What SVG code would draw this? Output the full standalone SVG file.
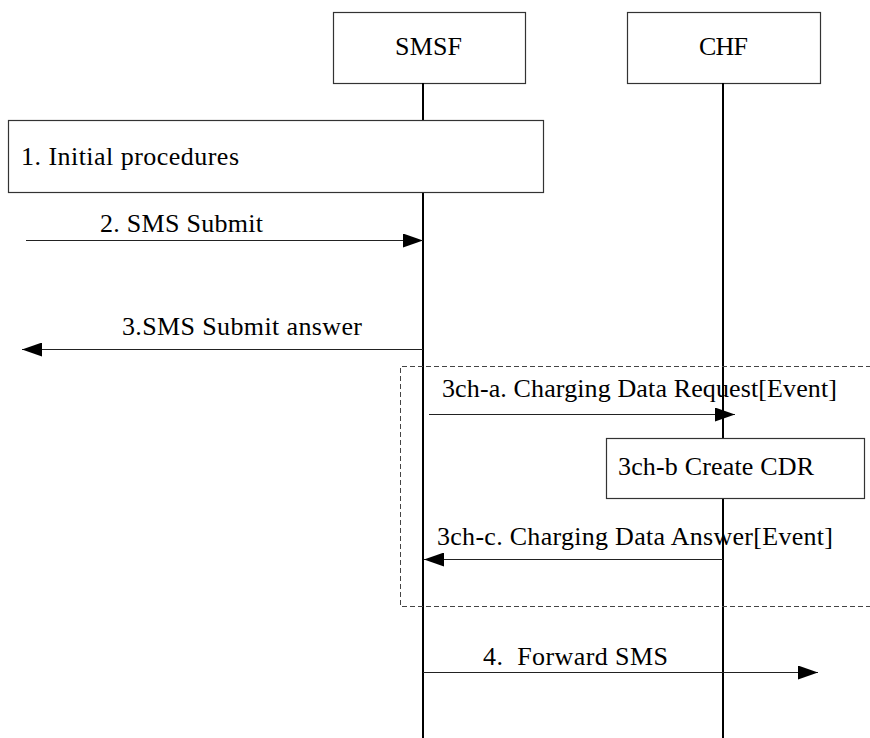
<svg xmlns="http://www.w3.org/2000/svg" width="870" height="738" viewBox="0 0 870 738">
<defs>
<marker id="ah" markerWidth="20" markerHeight="14" refX="20" refY="7" orient="auto" markerUnits="userSpaceOnUse">
<path d="M0,0 L20,7 L0,14 Z" fill="#000"/>
</marker>
<style>
.box{fill:#fff;stroke:#333;stroke-width:1.2}
.life{stroke:#000;stroke-width:2}
.msg{stroke:#222;stroke-width:1.2;fill:none;marker-end:url(#ah)}
.t{font-family:'Liberation Serif','DejaVu Serif','Times New Roman',serif;font-size:26px;fill:#000}
.dash{fill:none;stroke:#444;stroke-width:1;stroke-dasharray:5,3}
</style>
</defs>
<rect width="870" height="738" fill="#fff"/>
<g id="smsf">
<rect class="box" x="333.5" y="12.5" width="192" height="71"/>
<text class="t" x="395" y="55" textLength="67" lengthAdjust="spacing">SMSF</text>
</g>
<g id="chf">
<rect class="box" x="627.5" y="12.5" width="193" height="71"/>
<text class="t" x="699" y="55" textLength="49" lengthAdjust="spacing">CHF</text>
</g>
<g id="lifelines">
<line class="life" x1="423" y1="83" x2="423" y2="738"/>
<line class="life" x1="723" y1="83" x2="723" y2="738"/>
</g>
<g id="initial">
<rect class="box" x="8.5" y="120.5" width="535" height="72"/>
<text class="t" x="21" y="165" textLength="218" lengthAdjust="spacing">1. Initial procedures</text>
</g>
<g id="charging-frame">
<path class="dash" d="M871,366.5 H400.5 V606.5 H871"/>
</g>
<g id="cdr">
<rect class="box" x="606.5" y="438.5" width="258" height="60"/>
<text class="t" x="618" y="475" textLength="196" lengthAdjust="spacing">3ch-b Create CDR</text>
</g>
<g id="connectors">
<line class="msg" x1="26" y1="240.5" x2="423" y2="240.5"/>
<line class="msg" x1="423" y1="349.5" x2="22" y2="349.5"/>
<line class="msg" x1="429" y1="414.5" x2="735" y2="414.5"/>
<line class="msg" x1="723" y1="559.5" x2="424" y2="559.5"/>
<line class="msg" x1="423" y1="672.5" x2="818" y2="672.5"/>
</g>
<g id="labels">
<text class="t" x="100" y="232" textLength="163" lengthAdjust="spacing">2. SMS Submit</text>
<text class="t" x="122" y="335" textLength="240" lengthAdjust="spacing">3.SMS Submit answer</text>
<text class="t" x="442" y="397" textLength="395" lengthAdjust="spacing">3ch-a. Charging Data Request[Event]</text>
<text class="t" x="437" y="545" textLength="396" lengthAdjust="spacing">3ch-c. Charging Data Answer[Event]</text>
<text class="t" x="483" y="665" textLength="185" lengthAdjust="spacing" xml:space="preserve">4.  Forward SMS</text>
</g>
</svg>
